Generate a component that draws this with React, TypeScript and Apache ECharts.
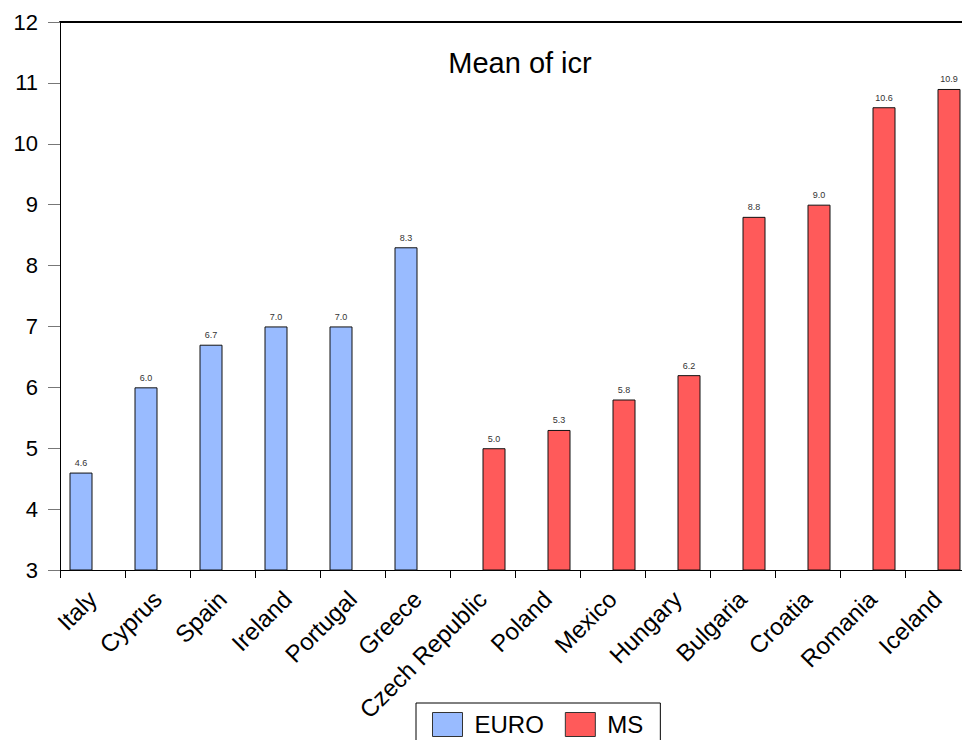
import React, { useEffect, useRef } from "react";
import * as echarts from "echarts";

// Countries in plotting order
const categories = [
  "Italy", "Cyprus", "Spain", "Ireland", "Portugal", "Greece",
  "Czech Republic", "Poland", "Mexico", "Hungary", "Bulgaria", "Croatia", "Romania", "Iceland",
];
// Group membership of each country
const groups = [
  "EURO", "EURO", "EURO", "EURO", "EURO", "EURO",
  "MS", "MS", "MS", "MS", "MS", "MS", "MS", "MS",
];
// Mean of icr per country
const meanIcr = [4.6, 6.0, 6.7, 7.0, 7.0, 8.3, 5.0, 5.3, 5.8, 6.2, 8.8, 9.0, 10.6, 10.9];

const seriesNames = ["EURO", "MS"];
const seriesColors = ["#99BBFF", "#FF5A5A"];
const yMin = 3;
const yMax = 12;
const chartTitle = "Mean of icr";

const FONT = "'Liberation Sans', Arial, sans-serif";

export default function App() {
  const ref = useRef<HTMLDivElement>(null);

  useEffect(() => {
    if (!ref.current) return;
    const chart = echarts.init(ref.current, undefined, { renderer: "svg" });

    const series = seriesNames.map((name, i) => ({
      name,
      type: "bar",
      data: meanIcr.map((v, k) => (groups[k] === name ? v : null)),
      barWidth: 23,
      barGap: "0%",
      itemStyle: { color: seriesColors[i], borderColor: "#111", borderWidth: 1 },
      label: {
        show: true,
        position: "top",
        distance: 5,
        fontSize: 9,
        fontFamily: FONT,
        color: "#333",
        formatter: (p: any) => Number(p.value).toFixed(1),
      },
    }));

    chart.setOption({
      animation: false,
      backgroundColor: "#fff",
      textStyle: { fontFamily: FONT },
      grid: { left: 60, top: 22, right: 10, bottom: 170 },
      graphic: [
        {
          type: "text",
          x: 520,
          y: 63,
          style: {
            text: chartTitle,
            fontSize: 29,
            fontFamily: FONT,
            fill: "#000",
            textAlign: "center",
            textVerticalAlign: "middle",
          },
        },
      ],
      legend: {
        left: 416,
        top: 703,
        data: seriesNames,
        itemWidth: 30,
        itemHeight: 24,
        itemGap: 21,
        padding: [9, 17, 9, 16],
        borderColor: "#000",
        borderWidth: 1,
        icon: "rect",
        itemStyle: { borderColor: "#333", borderWidth: 1 },
        textStyle: { fontSize: 24, fontFamily: FONT, color: "#000", padding: [0, 0, 0, 7] },
      },
      xAxis: [
        {
          type: "category",
          data: categories,
          position: "bottom",
          axisLine: { lineStyle: { color: "#000", width: 1 } },
          axisTick: { show: true, length: 8, lineStyle: { color: "#000" } },
          axisLabel: {
            interval: 0,
            rotate: 45,
            fontSize: 24,
            fontFamily: FONT,
            color: "#000",
            margin: 25,
          },
        },
        {
          type: "category",
          data: categories,
          position: "top",
          axisLine: { lineStyle: { color: "#000", width: 2 } },
          axisTick: { show: false },
          axisLabel: { show: false },
        },
      ],
      yAxis: {
        type: "value",
        min: yMin,
        max: yMax,
        interval: 1,
        axisLine: { show: true, lineStyle: { color: "#000", width: 1 } },
        axisTick: { show: true, length: 12, lineStyle: { color: "#777" } },
        splitLine: { show: false },
        axisLabel: { fontSize: 22, fontFamily: FONT, color: "#000", margin: 22 },
      },
      series,
    });

    return () => chart.dispose();
  }, []);

  return (
    <div
      style={{
        position: "absolute",
        left: 0,
        top: 0,
        width: 962,
        height: 740,
        overflow: "hidden",
        background: "#fff",
      }}
    >
      <div ref={ref} style={{ width: 980, height: 740 }} />
    </div>
  );
}
